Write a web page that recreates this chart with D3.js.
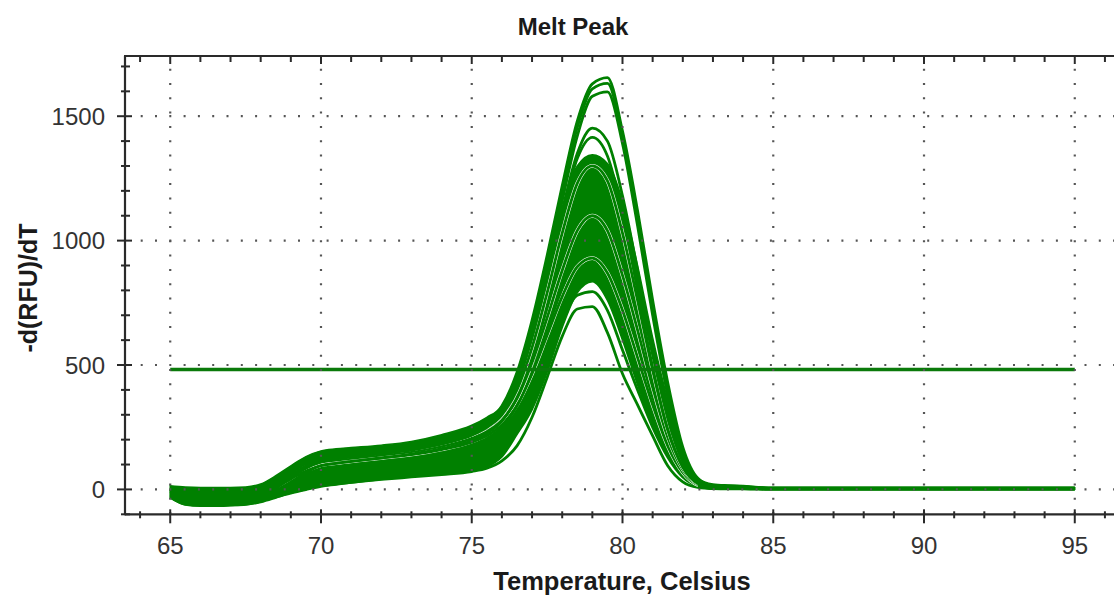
<!DOCTYPE html>
<html><head><meta charset="utf-8">
<script src="https://cdn.jsdelivr.net/npm/d3@7"></script>
<style>html,body{margin:0;padding:0;background:#fff;} svg{display:block;}</style>
</head><body><svg id="chart" width="1114" height="597"></svg>
<script>
// ---- data ----
const temps = [65,65.5,66,66.5,67,67.5,68,68.5,69,69.5,70,70.5,71,72,73,74,75,75.5,76,76.5,77,77.5,78,78.5,79,79.5,80,80.5,81,81.5,82,82.5,83,83.5,84,84.5,85,95];
// dense core of the well curves: lower and upper edge of the mass
const coreLow  = [-35,-62,-66,-66,-65,-62,-50,-33,-17,-3,10,18,26, 40,52,62,75, 90,130,220,320,470,650,790,835,760,600,420,260,140,60,18,4,2,2,1,1, 1];
const coreHigh = [15,10,8,8,8,10,22,55,95,132,155,163,168, 178,193,220,258, 290,335,455,650,890,1130,1300,1345,1310,1160,900,610,360,150,45,22,18,16,9,7, 7];
// individual well curves
const wellW1  = [5,-20,-25,-25,-22,-18,-5,25,65,105,130,140,148, 160,175,200,240, 275,335,470,680,940,1220,1480,1630,1655,1440,1120,760,430,170,45,15,14,12,8,6, 6];
const wellW2  = [0,-30,-35,-35,-32,-28,-15,15,55,95,125,135,142, 155,170,195,232, 265,320,445,650,910,1190,1455,1610,1632,1420,1090,730,400,155,40,14,12,10,7,5, 5];
const wellW3  = [-5,-35,-40,-40,-38,-34,-22,8,48,88,118,128,136, 150,165,190,226, 258,310,430,630,885,1160,1420,1580,1598,1390,1060,700,380,145,40,14,12,10,7,5, 5];
const wellW4  = [10,-10,-15,-15,-12,-8,5,35,75,110,135,145,152, 165,180,205,240, 270,325,440,625,860,1120,1350,1452,1400,1180,880,560,290,110,30,12,10,8,6,4, 4];
const wellW5  = [-10,-40,-45,-45,-42,-38,-25,5,45,85,112,122,130, 143,158,182,218, 250,305,420,610,850,1110,1330,1415,1340,1110,800,490,240,90,25,8,6,5,4,3, 3];
const wellW6  = [0,-25,-30,-30,-28,-24,-12,18,55,92,118,128,135, 148,162,185,220, 250,300,400,570,790,1030,1230,1300,1240,1030,760,480,240,90,25,8,6,5,4,3, 3];
const wellW7  = [-15,-45,-50,-50,-48,-44,-32,-5,30,68,95,105,113, 127,142,164,196, 225,275,370,530,730,950,1130,1200,1140,950,700,440,220,85,22,6,5,4,3,2, 2];
const wellW8  = [5,-20,-25,-25,-22,-18,-6,20,55,88,110,118,125, 138,152,173,205, 232,278,365,510,690,880,1040,1100,1040,860,640,410,210,80,22,6,5,4,3,2, 2];
const wellW9  = [-20,-50,-55,-55,-52,-48,-38,-12,20,55,80,90,98, 112,126,147,178, 205,250,335,470,640,810,950,1000,940,780,580,370,190,72,20,5,4,3,3,2, 2];
const wellW10 = [0,-28,-33,-33,-30,-26,-15,10,42,75,98,106,113, 126,140,160,190, 216,260,340,465,620,775,895,930,870,720,530,340,175,68,18,5,4,3,3,2, 2];
const wellW11 = [-25,-55,-60,-60,-58,-54,-44,-20,10,42,65,75,83, 97,110,128,155, 180,222,300,420,570,720,835,870,810,670,495,320,165,62,17,4,3,3,2,2, 2];
const wellL2  = [-10,-38,-42,-42,-40,-36,-28,-8,18,45,65,74,82, 95,108,124,148, 170,210,285,395,540,680,780,795,720,560,400,250,130,50,14,4,3,3,2,2, 2];
const wellL1  = [-30,-60,-65,-65,-63,-60,-50,-32,-12,2,15,22,28, 40,50,60,72, 85,115,175,290,450,615,725,735,630,465,340,215,95,30,8,3,2,2,2,2, 2];
const thresholdValue = 482;
const thresholdRange = [65, 95];
const xTickValues = [65,70,75,80,85,90,95];
const yTickValues = [0,500,1000,1500];
const xMinorTicks = d3.range(64, 97, 1);
const yMinorTicks = d3.range(-100, 1800, 100);
const chartTitle = "Melt Peak";
const xTitle = "Temperature, Celsius";
const yTitle = "-d(RFU)/dT";

// ---- layout ----
const svg = d3.select("#chart");
const pLeft = 125, pRight = 1120, pTop = 56, pBottom = 514.3;
const x = d3.scaleLinear().domain([63.5, 96.5]).range([pLeft, pRight]);
const y = d3.scaleLinear().domain([-100, 1742]).range([pBottom, pTop]);
const green = "#008000";
const font = "'Liberation Sans', Arial, Helvetica, sans-serif";

const wells = [wellL1, wellL2, wellW11, wellW10, wellW9, wellW8, wellW7, wellW6, wellW5, wellW4, wellW3, wellW2, wellW1];
const haloWells = new Set([wellW10, wellW8, wellW6]);

const toPts = arr => arr.map((v, i) => ({t: temps[i], v}));
const line = d3.line().x(d => x(d.t)).y(d => y(d.v)).curve(d3.curveMonotoneX);
const area = d3.area().x((d, i) => x(temps[i])).y0(d => y(d[0])).y1(d => y(d[1])).curve(d3.curveMonotoneX);

const defs = svg.append("defs");
defs.append("clipPath").attr("id", "haloClip").append("rect")
  .attr("x", x(68.6)).attr("y", pTop).attr("width", x(82.5) - x(68.6)).attr("height", pBottom - pTop);
defs.append("clipPath").attr("id", "plotClip").append("rect")
  .attr("x", pLeft).attr("y", pTop).attr("width", pRight - pLeft).attr("height", pBottom - pTop);

const plot = svg.append("g").attr("clip-path", "url(#plotClip)");

// core mass
plot.append("path")
  .datum(coreLow.map((lo, i) => [lo, coreHigh[i]]))
  .attr("d", area).attr("fill", green).attr("stroke", green).attr("stroke-width", 1.5);

// individual wells
wells.forEach(w => {
  const g = plot.append("g");
  if (haloWells.has(w)) {
    g.append("path").datum(toPts(w)).attr("d", line)
      .attr("fill", "none").attr("stroke", "#ffffff").attr("stroke-width", 3.8)
      .attr("clip-path", "url(#haloClip)");
  }
  g.append("path").datum(toPts(w)).attr("d", line)
    .attr("fill", "none").attr("stroke", green).attr("stroke-width", 2.8)
    .attr("stroke-linejoin", "round");
});

// threshold line
plot.append("line")
  .attr("x1", x(thresholdRange[0])).attr("x2", x(thresholdRange[1]))
  .attr("y1", y(thresholdValue)).attr("y2", y(thresholdValue))
  .attr("stroke", "#0a7a0a").attr("stroke-width", 3.5);

// dotted grid (on top)
const grid = svg.append("g").attr("stroke", "#555").attr("stroke-width", 2.2).attr("stroke-dasharray", "2,12.3");
grid.selectAll("line.gx").data(xTickValues).join("line")
  .attr("x1", d => x(d)).attr("x2", d => x(d)).attr("y1", pTop + 12.7).attr("y2", pBottom);
grid.selectAll("line.gy").data(yTickValues).join("line")
  .attr("x1", pLeft + 15.7).attr("x2", 1114).attr("y1", d => y(d)).attr("y2", d => y(d));

// axes frame
const axisColor = "#2a2a2a";
const frame = svg.append("g").attr("stroke", axisColor).attr("stroke-width", 2.2).attr("fill", "none");
frame.append("line").attr("x1", pLeft).attr("x2", pLeft).attr("y1", pTop).attr("y2", pBottom + 1);
frame.append("line").attr("x1", pLeft).attr("x2", 1114).attr("y1", pBottom).attr("y2", pBottom);
frame.append("line").attr("x1", pLeft - 1).attr("x2", 1114).attr("y1", pTop).attr("y2", pTop);

// ticks
const isMajorX = d => xTickValues.includes(d);
const isMajorY = d => yTickValues.includes(d);
svg.append("g").attr("stroke", axisColor).attr("stroke-width", 2)
  .selectAll("line").data(xMinorTicks).join("line")
  .attr("x1", d => x(d)).attr("x2", d => x(d))
  .attr("y1", d => pBottom - (isMajorX(d) ? 5 : 3)).attr("y2", d => pBottom + (isMajorX(d) ? 9 : 4));
svg.append("g").attr("stroke", axisColor).attr("stroke-width", 2)
  .selectAll("line").data(xMinorTicks).join("line")
  .attr("x1", d => x(d)).attr("x2", d => x(d))
  .attr("y1", pTop).attr("y2", d => pTop + (isMajorX(d) ? 8 : 6));
svg.append("g").attr("stroke", axisColor).attr("stroke-width", 2)
  .selectAll("line").data(yMinorTicks).join("line")
  .attr("x1", d => pLeft - (isMajorY(d) ? 8 : 4)).attr("x2", d => pLeft + (isMajorY(d) ? 7 : 5))
  .attr("y1", d => y(d)).attr("y2", d => y(d));

// tick labels
svg.append("g").selectAll("text").data(xTickValues).join("text")
  .attr("x", d => x(d)).attr("y", 554).attr("text-anchor", "middle")
  .attr("font-family", font).attr("font-size", 24).attr("fill", "#333").text(d => d);
svg.append("g").selectAll("text").data(yTickValues).join("text")
  .attr("x", 105).attr("y", d => y(d)).attr("dy", "0.36em").attr("text-anchor", "end")
  .attr("font-family", font).attr("font-size", 24).attr("fill", "#333").text(d => d);

// titles
svg.append("text").attr("x", 573).attr("y", 35).attr("text-anchor", "middle")
  .attr("font-family", font).attr("font-weight", "bold").attr("font-size", 24).attr("fill", "#1a1a1a").text(chartTitle);
svg.append("text").attr("x", 622).attr("y", 590).attr("text-anchor", "middle")
  .attr("font-family", font).attr("font-weight", "bold").attr("font-size", 25.5).attr("fill", "#1a1a1a").text(xTitle);
svg.append("text").attr("transform", "translate(37,288) rotate(-90)").attr("text-anchor", "middle")
  .attr("font-family", font).attr("font-weight", "bold").attr("font-size", 25).attr("fill", "#1a1a1a").text(yTitle);
</script></body></html>
